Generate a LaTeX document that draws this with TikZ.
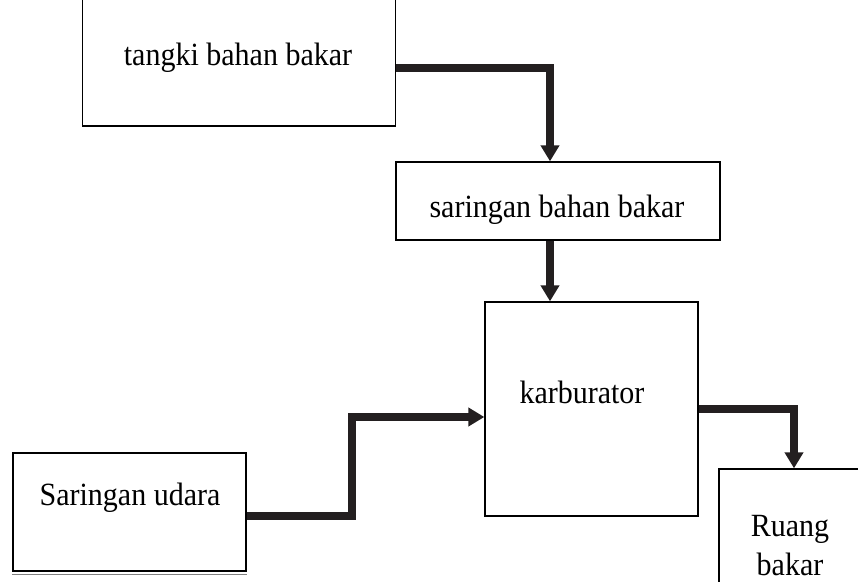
\documentclass[tikz,border=0pt]{standalone}
\usepackage{fontspec}
\setmainfont{Liberation Serif}
\usetikzlibrary{arrows.meta}
\definecolor{ink}{HTML}{231F20}
\newcommand{\tall}[1]{\scalebox{1}[1.08]{#1}}

\begin{document}
\begin{tikzpicture}[x=1bp,y=-1bp,
    box/.style={draw,line width=1.3bp,inner sep=0pt},
    txt/.style={font=\fontsize{30bp}{39bp}\selectfont,align=center,inner sep=0pt},
    flowarrow/.style={line width=8bp,draw=ink,-{Triangle[width=18bp,length=16bp]}}]
    \useasboundingbox (0,0) rectangle (858,582);
    % boxes
    \node[box,minimum width=313bp,minimum height=128bp] (tangki) at (239,62) {};
    \node[box,minimum width=324bp,minimum height=78bp] (saringanbb) at (558,201) {};
    \node[box,minimum width=213bp,minimum height=214bp] (karburator) at (591.5,409) {};
    \node[box,minimum width=233bp,minimum height=118bp] (udara) at (129.5,512) {};
    \node[box,minimum width=150bp,minimum height=140bp] (ruang) at (794,539) {};
    \draw[gray,line width=0.8bp] ([yshift=-2.5bp]udara.south west) -- ([yshift=-2.5bp]udara.south east);
    % texts
    \node[txt] (tangki-t) at (238,58) {\tall{tangki bahan bakar}};
    \node[txt] (saringanbb-t) at (557,210) {\tall{saringan bahan bakar}};
    \node[txt] (karburator-t) at (582,392) {\tall{karburator}};
    \node[txt] (udara-t) at (130,498) {\tall{Saringan udara}};
    \node[txt] (ruang-t) at (790,546) {\tall{Ruang}\\\tall{bakar}};
    % flow
    \coordinate (bend) at (352,417);
    \draw[flowarrow] ([yshift=-6bp]tangki.east) -| ([xshift=-8bp]saringanbb.north);
    \draw[flowarrow] ([xshift=-8bp]saringanbb.south) -- ([xshift=-8bp]saringanbb.south |- karburator.north);
    \draw[flowarrow] (karburator.east) -| (ruang.north);
    \draw[flowarrow] ([yshift=-4bp]udara.east) -| (bend) -- (karburator.west |- bend);
\end{tikzpicture}
\end{document}
